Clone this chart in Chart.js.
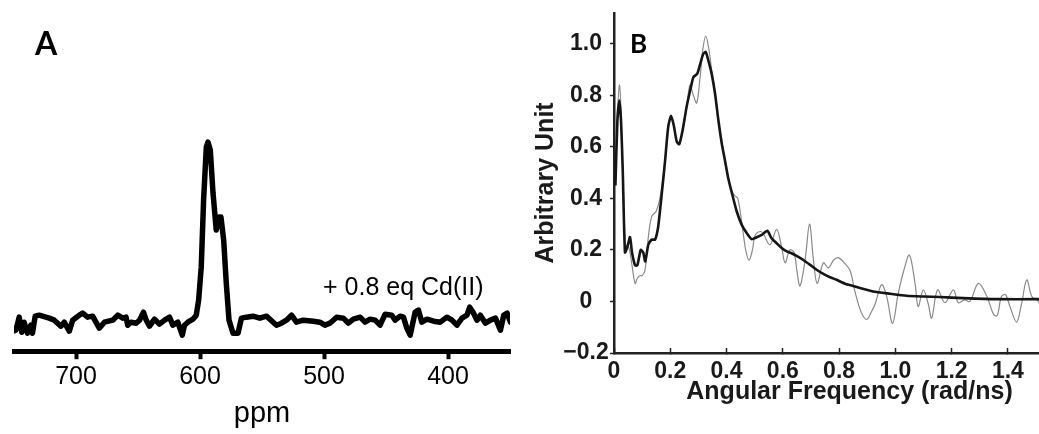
<!DOCTYPE html>
<html lang="en">
<head>
<meta charset="UTF-8">
<title>Cd(II) NMR and Angular Frequency Spectrum</title>
<script src="https://cdn.jsdelivr.net/npm/chart.js"></script>
<style>
  html, body { margin: 0; padding: 0; background: #fff; overflow: hidden; }
  #panelA { position: absolute; left: 0; top: 0; width: 520px; height: 434px; }
  #panelB { position: absolute; left: 520px; top: 0; width: 519px; height: 434px; overflow: hidden; }
  #panelB .inner { width: 566px; height: 434px; }
</style>
</head>
<body>
<div id="panelA"><canvas id="nmrChart"></canvas></div>
<div id="panelB"><div class="inner"><canvas id="freqChart"></canvas></div></div>

<script>
// ---- Panel A: NMR trace, + 0.8 eq Cd(II) ----
const ppmValues = [751, 748.5, 745.8, 743.7, 741.8, 739.1, 736.4, 735.1, 732.9, 729.7,
  724.3, 721.6, 717.5, 712.2, 709.5, 705.4, 702.7, 697.3, 694.6, 690.6,
  686.6, 681.2, 677.1, 670.4, 666.3, 662.3, 659.6, 658.3, 655.6, 651.5,
  648.8, 645.6, 643.4, 640.7, 636.7, 632.7, 628.6, 624.6, 621.9, 617.9,
  614.3, 612.5, 609.8, 605.7, 603.0, 601.1, 599.0, 597.1, 594.9, 593.6,
  591.7, 589.5, 586.9, 584.7, 583.1, 580.9, 578.8, 576.6, 573.4, 569.3,
  566.6, 562.6, 557.2, 551.8, 546.4, 541.0, 538.3, 534.3, 530.3, 526.2,
  522.2, 516.8, 508.7, 503.3, 499.3, 495.2, 489.8, 484.4, 480.4, 476.3,
  470.9, 466.9, 462.8, 458.8, 454.8, 450.7, 445.3, 442.6, 438.6, 435.9,
  433.2, 430.5, 426.5, 423.8, 421.1, 417.0, 411.6, 406.2, 400.9, 396.8,
  392.8, 388.7, 384.7, 382.5, 379.8, 376.6, 373.9, 369.8, 365.8, 361.7,
  357.7, 355.0, 352.3, 349.6];
const nmrIntensity = [-9, -8, 5, -10, 0, -11, -3, -11, 6, 7,
  5, 4, 2, -4, 0, -9, 2, 7, 9, 5,
  6, -6, 0, 2, 7, 4, 5, -3, 0, -1,
  2, 10, 2, -4, 3, -2, 2, 5, -3, 0,
  -13, -3, 0, 3, 7, 22, 55, 122, 175, 180,
  172, 129, 92, 105, 105, 82, 39, 2, -11, -11,
  4, 5, 6, 4, 6, 0, -3, -1, 2, 7,
  0, 2, 1, 0, -3, -1, 5, 4, -1, 3,
  5, 0, 3, 2, -3, 8, 7, 2, 6, 5,
  -6, -13, 10, 12, 0, 3, 1, 0, 5, 2,
  -3, 4, 7, 15, 10, 2, 7, -1, 2, 4,
  -8, 7, 9, 0];
const ppmTicks = [700, 600, 500, 400];

// ---- Panel B: angular frequency spectrum ----
// thick black curve
const fitFreq = [0.005, 0.012, 0.019, 0.025, 0.031, 0.039, 0.047, 0.057, 0.064, 0.075,
  0.083, 0.095, 0.104, 0.111, 0.122, 0.134, 0.146, 0.157, 0.169, 0.181,
  0.193, 0.203, 0.213, 0.223, 0.232, 0.244, 0.258, 0.273, 0.282, 0.296,
  0.306, 0.317, 0.326, 0.335, 0.347, 0.359, 0.371, 0.383, 0.394, 0.406,
  0.418, 0.436, 0.454, 0.472, 0.489, 0.507, 0.525, 0.545, 0.560, 0.578,
  0.596, 0.614, 0.631, 0.649, 0.673, 0.697, 0.720, 0.744, 0.768, 0.791,
  0.821, 0.850, 0.874, 0.921, 0.981, 1.040, 1.099, 1.158, 1.241, 1.360,
  1.507, 1.520];
const fitValues = [0.45, 0.70, 0.78, 0.70, 0.51, 0.19, 0.21, 0.25, 0.19, 0.14,
  0.14, 0.20, 0.19, 0.155, 0.22, 0.24, 0.24, 0.29, 0.41, 0.54,
  0.68, 0.72, 0.68, 0.62, 0.61, 0.665, 0.755, 0.83, 0.87, 0.884,
  0.92, 0.96, 0.968, 0.936, 0.884, 0.807, 0.703, 0.613, 0.549, 0.478,
  0.425, 0.35, 0.297, 0.265, 0.242, 0.249, 0.258, 0.274, 0.245, 0.226,
  0.207, 0.194, 0.187, 0.177, 0.161, 0.142, 0.123, 0.107, 0.094, 0.084,
  0.069, 0.06, 0.052, 0.039, 0.030, 0.022, 0.019, 0.017, 0.013, 0.009,
  0.009, 0.009];
// thin grey curve
const expFreq = [0.005, 0.019, 0.031, 0.040, 0.047, 0.055, 0.064, 0.075, 0.083, 0.092,
  0.100, 0.110, 0.122, 0.134, 0.150, 0.163, 0.181, 0.193, 0.203, 0.213,
  0.223, 0.232, 0.244, 0.258, 0.270, 0.282, 0.294, 0.306, 0.316, 0.326,
  0.337, 0.347, 0.359, 0.371, 0.383, 0.394, 0.406, 0.418, 0.430, 0.440,
  0.455, 0.468, 0.480, 0.492, 0.503, 0.525, 0.554, 0.578, 0.596, 0.608,
  0.625, 0.640, 0.650, 0.661, 0.679, 0.695, 0.708, 0.722, 0.744, 0.762,
  0.780, 0.797, 0.818, 0.839, 0.856, 0.878, 0.898, 0.915, 0.928, 0.951,
  0.969, 0.990, 1.010, 1.030, 1.050, 1.070, 1.081, 1.099, 1.117, 1.129,
  1.150, 1.176, 1.206, 1.224, 1.247, 1.265, 1.295, 1.325, 1.349, 1.362,
  1.377, 1.392, 1.407, 1.431, 1.449, 1.467, 1.485, 1.503, 1.520];
const expValues = [0.50, 0.84, 0.52, 0.20, 0.22, 0.20, 0.14, 0.07, 0.09, 0.10,
  0.10, 0.12, 0.25, 0.33, 0.35, 0.40, 0.54, 0.68, 0.72, 0.68,
  0.62, 0.61, 0.66, 0.75, 0.84, 0.80, 0.77, 0.87, 0.98, 1.03,
  0.98, 0.90, 0.81, 0.70, 0.61, 0.55, 0.48, 0.43, 0.41, 0.40,
  0.30, 0.20, 0.16, 0.20, 0.26, 0.27, 0.22, 0.28, 0.21, 0.15,
  0.20, 0.19, 0.12, 0.06, 0.16, 0.30, 0.17, 0.07, 0.15, 0.13,
  0.16, 0.17, 0.15, 0.12, 0.04, -0.04, -0.07, -0.04, -0.01, 0.065,
  0.02, -0.085, 0.03, 0.12, 0.18, 0.07, -0.02, 0.045, -0.01, -0.065,
  0.045, -0.005, 0.045, -0.005, 0.006, 0.0, 0.07, 0.02, -0.05, -0.055,
  0.019, 0.026, -0.019, -0.08, -0.006, 0.084, 0.019, 0.006, -0.02];
const freqTicks = [0, 0.2, 0.4, 0.6, 0.8, 1.0, 1.2, 1.4];
const freqTickLabels = ['0', '0.2', '0.4', '0.6', '0.8', '1.0', '1.2', '1.4'];
const unitTicks = [-0.2, 0, 0.2, 0.4, 0.6, 0.8, 1.0];
const unitTickLabels = ['\u22120.2', '0', '0.2', '0.4', '0.6', '0.8', '1.0'];

const sans = "'Liberation Sans', Arial, sans-serif";

// draws free text (panel letters, annotation) onto the canvas
const textPlugin = {
  id: 'panelText',
  afterDraw(chart, args, opts) {
    const ctx = chart.ctx;
    ctx.save();
    ctx.fillStyle = '#000';
    ctx.textBaseline = 'alphabetic';
    ctx.textAlign = 'left';
    (opts.items || []).forEach(t => {
      ctx.font = t.font;
      ctx.fillText(t.text, t.x, t.y);
    });
    ctx.restore();
  }
};

function pairs(xs, ys) {
  return xs.map((x, i) => ({ x: x, y: ys[i] }));
}

document.addEventListener('DOMContentLoaded', function() {
  // Panel A
  new Chart(document.getElementById('nmrChart'), {
    type: 'line',
    data: {
      datasets: [{
        data: pairs(ppmValues, nmrIntensity),
        borderColor: '#000',
        borderWidth: 5.5,
        borderJoinStyle: 'round',
        borderCapStyle: 'round',
        pointRadius: 0,
        tension: 0
      }]
    },
    options: {
      responsive: true,
      maintainAspectRatio: false,
      animation: false,
      layout: { padding: { left: 14, right: 10, top: 100, bottom: 0 } },
      plugins: {
        legend: { display: false },
        tooltip: { enabled: false },
        panelText: {
          items: [
            { text: 'A', x: 35, y: 55, font: 'bold 32px Lato, sans-serif' },
            { text: '+ 0.8 eq Cd(II)', x: 323, y: 295, font: '25px ' + sans }
          ]
        }
      },
      scales: {
        x: {
          type: 'linear',
          reverse: true,
          min: 350,
          max: 750,
          afterBuildTicks: s => { s.ticks = ppmTicks.map(v => ({ value: v })); },
          border: { display: true, color: '#000', width: 5 },
          grid: { drawOnChartArea: false, drawTicks: true, tickLength: 8, tickWidth: 4, tickColor: '#000' },
          ticks: { color: '#000', font: { family: sans, size: 25 }, padding: 3, maxRotation: 0 },
          title: { display: true, text: 'ppm', color: '#000', font: { family: sans, size: 29 }, padding: { top: 1, bottom: 3 } }
        },
        y: { display: false, min: -29, max: 222 }
      }
    },
    plugins: [textPlugin]
  });

  // Panel B
  new Chart(document.getElementById('freqChart'), {
    type: 'line',
    data: {
      datasets: [{
        data: pairs(fitFreq, fitValues),
        borderColor: '#151515',
        borderWidth: 2.6,
        pointRadius: 0,
        tension: 0.2,
        order: 0
      }, {
        data: pairs(expFreq, expValues),
        borderColor: '#8a8a8a',
        borderWidth: 1.2,
        pointRadius: 0,
        tension: 0.35,
        order: 1
      }]
    },
    options: {
      responsive: true,
      maintainAspectRatio: false,
      animation: false,
      layout: { padding: { left: 10, right: 1, top: 12, bottom: 33.5 } },
      plugins: {
        legend: { display: false },
        tooltip: { enabled: false },
        panelText: {
          items: [
            { text: 'B', x: 110, y: 53, font: 'bold 26px Lato, sans-serif' }
          ]
        }
      },
      scales: {
        x: {
          type: 'linear',
          min: 0,
          max: 1.674,
          afterBuildTicks: s => { s.ticks = freqTicks.map(v => ({ value: v })); },
          border: { display: true, color: '#222', width: 2.5 },
          grid: { drawOnChartArea: false, drawTicks: true, tickLength: -5, tickWidth: 1.5, tickColor: '#222' },
          ticks: {
            color: '#1a1a1a', padding: 12.5, maxRotation: 0, autoSkip: false,
            font: { family: sans, size: 23, weight: 'bold', lineHeight: 1 },
            callback: v => freqTickLabels[freqTicks.indexOf(v)]
          },
          title: {
            display: true, text: 'Angular Frequency (rad/ns)', color: '#1a1a1a',
            font: { family: sans, size: 25, weight: 'bold', lineHeight: 1 },
            padding: { top: -16.5, bottom: -4 }
          }
        },
        y: {
          min: -0.2,
          max: 1.12,
          afterBuildTicks: s => { s.ticks = unitTicks.map(v => ({ value: v })); },
          border: { display: true, color: '#222', width: 2.5 },
          grid: { drawOnChartArea: false, drawTicks: true, tickLength: 4, tickWidth: 1.5, tickColor: '#222' },
          ticks: {
            color: '#1a1a1a', padding: 1.3, crossAlign: 'center', autoSkip: false,
            font: { family: sans, size: 23, weight: 'bold', lineHeight: 1 },
            callback: v => unitTickLabels[unitTicks.indexOf(v)]
          },
          title: {
            display: true, text: 'Arbitrary Unit', color: '#1a1a1a',
            font: { family: sans, size: 25, weight: 'bold', lineHeight: 1 },
            padding: { top: 3.5, bottom: 3.5 }
          }
        }
      }
    },
    plugins: [textPlugin]
  });
});
</script>
</body>
</html>
